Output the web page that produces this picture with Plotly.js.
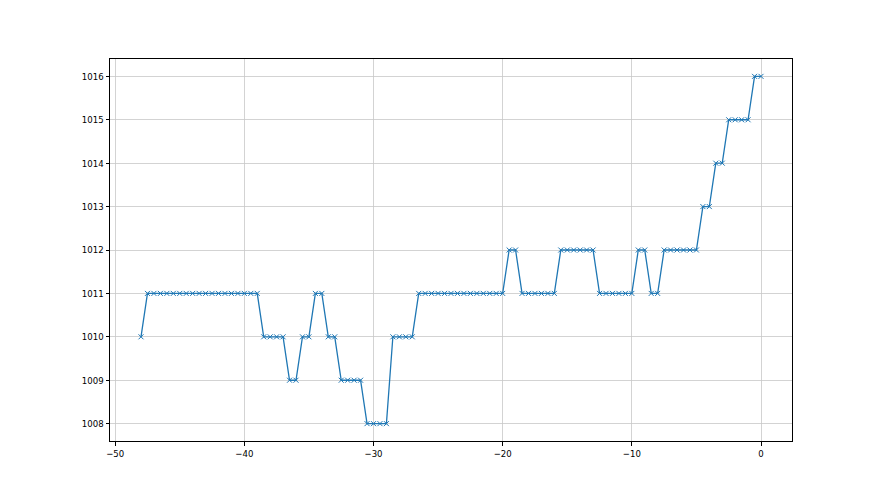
<!DOCTYPE html>
<html>
<head>
<meta charset="utf-8">
<script src="https://cdn.plot.ly/plotly-3.0.1.min.js"></script>
<style>html,body{margin:0;padding:0;background:#fff;}#chart{width:880px;height:495px;}</style>
</head>
<body>
<div id="chart"></div>
<script>
const xValues = [
  -48, -47.5, -47, -46.5, -46, -45.5, -45, -44.5, -44, -43.5, -43, -42.5, -42, -41.5, -41, -40.5, -40, -39.5, -39,
  -38.5, -38, -37.5, -37, -36.5, -36, -35.5, -35, -34.5, -34, -33.5, -33, -32.5, -32, -31.5, -31,
  -30.5, -30, -29.5, -29, -28.5, -28, -27.5, -27, -26.5, -26, -25.5, -25, -24.5, -24, -23.5, -23,
  -22.5, -22, -21.5, -21, -20.5, -20, -19.5, -19, -18.5, -18, -17.5, -17, -16.5, -16, -15.5, -15,
  -14.5, -14, -13.5, -13, -12.5, -12, -11.5, -11, -10.5, -10, -9.5, -9, -8.5, -8, -7.5, -7,
  -6.5, -6, -5.5, -5, -4.5, -4, -3.5, -3, -2.5, -2, -1.5, -1, -0.5, 0
];
const pressure = [
  1010, 1011, 1011, 1011, 1011, 1011, 1011, 1011, 1011, 1011, 1011, 1011, 1011, 1011, 1011, 1011, 1011, 1011, 1011,
  1010, 1010, 1010, 1010, 1009, 1009, 1010, 1010, 1011, 1011, 1010, 1010, 1009, 1009, 1009, 1009,
  1008, 1008, 1008, 1008, 1010, 1010, 1010, 1010, 1011, 1011, 1011, 1011, 1011, 1011, 1011, 1011,
  1011, 1011, 1011, 1011, 1011, 1011, 1012, 1012, 1011, 1011, 1011, 1011, 1011, 1011, 1012, 1012,
  1012, 1012, 1012, 1012, 1011, 1011, 1011, 1011, 1011, 1011, 1012, 1012, 1011, 1011, 1012, 1012,
  1012, 1012, 1012, 1012, 1013, 1013, 1014, 1014, 1015, 1015, 1015, 1015, 1016, 1016
];

const trace = {
  x: xValues,
  y: pressure,
  type: 'scatter',
  mode: 'lines+markers',
  line: {color: '#1f77b4', width: 1.3},
  marker: {symbol: 'x-thin', size: 5, color: '#1f77b4', line: {color: '#1f77b4', width: 1}},
  hoverinfo: 'none'
};

const axisCommon = {
  showline: true, mirror: true, linecolor: '#000', linewidth: 1,
  ticks: 'outside', ticklen: 3.5, tickcolor: '#000', tickwidth: 1,
  showgrid: true, gridcolor: '#c8c8c8', gridwidth: 0.8,
  zeroline: false,
  tickfont: {family: '"Liberation Sans Narrow", "DejaVu Sans Condensed", "DejaVu Sans"', size: 9.5, color: '#000'}
};

const layout = {
  width: 880, height: 495,
  margin: {l: 110, r: 88, t: 59, b: 54},
  paper_bgcolor: '#fff', plot_bgcolor: '#fff',
  showlegend: false,
  xaxis: Object.assign({}, axisCommon, {range: [-50.4, 2.4], dtick: 10, tick0: 0}),
  yaxis: Object.assign({}, axisCommon, {range: [1007.6, 1016.4], dtick: 1, tick0: 1008})
};

Plotly.newPlot('chart', [trace], layout, {displayModeBar: false, staticPlot: true});
</script>
</body>
</html>
